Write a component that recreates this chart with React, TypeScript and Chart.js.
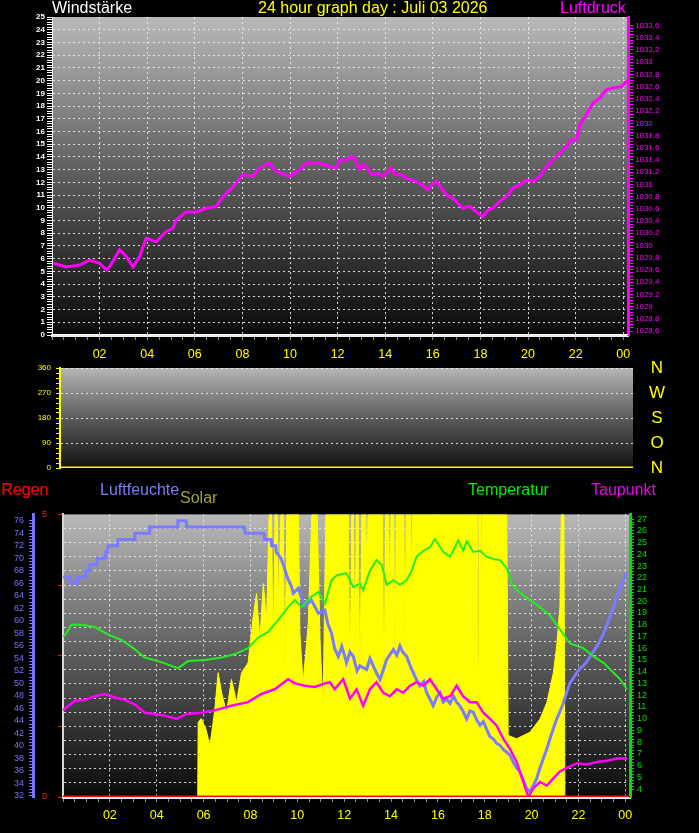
import React, { useEffect, useRef } from "react";
import { Chart, registerables } from "chart.js";

Chart.register(...registerables);

const FONT = '"Liberation Sans", Arial, Helvetica, sans-serif';
const GRID = "rgba(236,236,236,0.9)";

// ---------- tick labels ----------
const HOUR_LABELS = ["02", "04", "06", "08", "10", "12", "14", "16", "18", "20", "22", "00"];
const WIND_DIR_TICKS = [0, 90, 180, 270, 360];
const WIND_DIR_NAMES = ["N", "O", "S", "W", "N"];

type P = [number, number]; // [hour, value]

// ---------- top panel ----------
const pressure: P[] = [
  [0.05, 1029.71], [0.6, 1029.65], [1.16, 1029.68], [1.58, 1029.76], [2.0, 1029.71], [2.28, 1029.6], [2.42, 1029.65], [2.84, 1029.93], [3.12, 1029.82], [3.4, 1029.65],
  [3.68, 1029.82], [3.96, 1030.12], [4.38, 1030.06], [4.8, 1030.23], [5.08, 1030.28], [5.22, 1030.42], [5.64, 1030.55], [6.06, 1030.55], [6.48, 1030.61], [6.9, 1030.64],
  [7.18, 1030.8], [7.6, 1030.96], [8.02, 1031.16], [8.44, 1031.13], [8.72, 1031.27], [9.14, 1031.35], [9.42, 1031.21], [9.98, 1031.13], [10.4, 1031.24], [10.68, 1031.35],
  [11.24, 1031.35], [11.66, 1031.29], [11.95, 1031.27], [12.08, 1031.4], [12.37, 1031.4], [12.58, 1031.46], [12.71, 1031.43], [12.92, 1031.24], [13.06, 1031.32], [13.21, 1031.29],
  [13.42, 1031.16], [13.69, 1031.18], [13.9, 1031.13], [14.11, 1031.21], [14.26, 1031.27], [14.4, 1031.16], [14.68, 1031.16], [14.89, 1031.1], [15.16, 1031.07], [15.45, 1031.02],
  [15.79, 1030.91], [15.94, 1030.99], [16.15, 1031.05], [16.36, 1030.94], [16.57, 1030.83], [16.84, 1030.77], [17.05, 1030.69], [17.26, 1030.61], [17.55, 1030.64], [17.83, 1030.55],
  [18.1, 1030.47], [18.32, 1030.58], [18.53, 1030.61], [18.81, 1030.72], [19.09, 1030.8], [19.37, 1030.94], [19.65, 1030.99], [19.93, 1031.07], [20.21, 1031.05], [20.49, 1031.13],
  [20.77, 1031.29], [21.05, 1031.4], [21.33, 1031.51], [21.61, 1031.62], [21.82, 1031.73], [22.03, 1031.73], [22.17, 1031.97], [22.45, 1032.14], [22.73, 1032.33], [23.01, 1032.41],
  [23.29, 1032.55], [23.57, 1032.58], [23.92, 1032.6], [24.2, 1032.71],
];
const windSpeed: P[] = [[0, 0], [24.2, 0]];

// ---------- middle panel ----------
const windDirection: P[] = [[0, 0], [24, 0]];

// ---------- bottom panel ----------
const rain: P[] = [[0, 0], [24.2, 0]];

const humidity: P[] = [
  [0, 67], [0.28, 67], [0.3, 66], [0.6, 66], [0.62, 67], [0.95, 67], [0.97, 68], [1.12, 68], [1.14, 69], [1.45, 69],
  [1.47, 70], [1.8, 70], [1.82, 71], [1.91, 71], [1.93, 72], [2.33, 72], [2.35, 73], [3.05, 73], [3.07, 74], [3.68, 74],
  [3.7, 75], [4.88, 75], [4.9, 76], [5.25, 76], [5.27, 75], [7.74, 75], [7.78, 74], [8.58, 74], [8.6, 73], [8.88, 73],
  [8.9, 72], [9.08, 72], [9.1, 71], [9.3, 70], [9.4, 69], [9.6, 66.7], [9.75, 65.5], [9.83, 64.4], [10.04, 65.2], [10.2, 63.5],
  [10.32, 62.3], [10.6, 63.3], [10.9, 61.2], [11.18, 61.7], [11.3, 59.5], [11.46, 58], [11.6, 55.5], [11.75, 54.3], [11.9, 55.9], [12.1, 53.3],
  [12.25, 55], [12.39, 54.3], [12.55, 52], [12.67, 52.8], [12.96, 52.2], [13.1, 54], [13.24, 52.8], [13.4, 51.5], [13.53, 50.6], [13.7, 52.5],
  [13.81, 53.8], [14.1, 55.4], [14.25, 54.5], [14.38, 56], [14.5, 55], [14.67, 54.3], [14.8, 53], [14.95, 51.7], [15.1, 50.5], [15.23, 49.6],
  [15.4, 50.3], [15.52, 48.5], [15.66, 47.5], [15.8, 46.4], [15.95, 47.8], [16.09, 48.5], [16.23, 47], [16.37, 47.5], [16.52, 46.8], [16.66, 48],
  [16.8, 47], [16.94, 46.4], [17.08, 45.5], [17.23, 44.3], [17.37, 45.6], [17.51, 45.4], [17.65, 44.2], [17.8, 43.3], [17.94, 43.9], [18.08, 42.7],
  [18.22, 41.5], [18.37, 41.1], [18.51, 40.4], [18.65, 40.1], [18.8, 39.4], [18.94, 39], [19.08, 38.5], [19.22, 37.4], [19.36, 36.5], [19.5, 35.9],
  [19.65, 34.5], [19.79, 33.2], [19.93, 32.7], [20.07, 33.6], [20.22, 34.8], [20.36, 36.5], [20.5, 38], [20.65, 39.5], [20.78, 41.1], [20.93, 42.8],
  [21.07, 44.3], [21.21, 45.5], [21.36, 46.9], [21.5, 48.6], [21.64, 50.1], [21.78, 50.8], [21.93, 51.7], [22.07, 52.4], [22.21, 52.8], [22.36, 53.5],
  [22.5, 54.3], [22.64, 55.1], [22.78, 55.9], [22.93, 56.9], [23.07, 58], [23.21, 59.3], [23.35, 60.7], [23.5, 62.2], [23.64, 63.9], [23.78, 65.2],
  [23.92, 66.5], [24.07, 67.8],
];

const temperature: P[] = [
  [0, 17], [0.15, 17.3], [0.36, 18], [0.79, 18], [1.36, 17.8], [1.93, 17.15], [2.5, 16.7], [3.07, 15.9], [3.49, 15.2], [4.06, 14.9],
  [4.49, 14.6], [4.91, 14.3], [5.34, 14.9], [6.05, 15], [6.77, 15.2], [7.34, 15.5], [7.9, 16], [8.33, 16.9], [8.76, 17.4], [9.18, 18.4],
  [9.61, 19.5], [9.9, 20.1], [10.18, 19.5], [10.61, 20.4], [10.9, 20.8], [11.18, 19.8], [11.46, 21.8], [11.68, 22.2], [12.1, 22.4], [12.39, 21.2],
  [12.67, 21.5], [12.81, 20.95], [13.1, 22.6], [13.38, 23.5], [13.6, 23.1], [13.81, 21.4], [14.1, 21.8], [14.38, 21.4], [14.67, 21.8], [14.88, 22.6],
  [15.09, 23.8], [15.38, 24.3], [15.66, 24.6], [15.87, 25.3], [16.23, 24.2], [16.52, 23.8], [16.87, 25.2], [17.08, 24.3], [17.23, 25.1], [17.51, 24.2],
  [17.8, 24.3], [18.08, 23.8], [18.37, 23.6], [18.65, 23.5], [18.94, 22.8], [19.15, 21.5], [19.36, 20.95], [19.65, 20.5], [19.93, 20.1], [20.36, 19.5],
  [20.78, 18.8], [21.21, 17.6], [21.64, 16.4], [22.21, 16], [22.64, 15.3], [23.07, 14.75], [23.5, 13.9], [23.78, 13.35], [24.07, 12.5],
];

const dewPoint: P[] = [
  [0, 10.7], [0.15, 10.95], [0.5, 11.5], [0.93, 11.6], [1.36, 11.9], [1.78, 12.1], [2.21, 11.8], [2.64, 11.6], [3.07, 11.2], [3.49, 10.5],
  [3.92, 10.4], [4.35, 10.25], [4.85, 9.97], [5.27, 10.4], [5.91, 10.5], [6.48, 10.7], [7.19, 11.1], [7.9, 11.4], [8.47, 12.1], [9.04, 12.5],
  [9.61, 13.35], [9.9, 13], [10.32, 12.8], [10.75, 12.7], [11.18, 13], [11.39, 13.1], [11.6, 12.5], [11.96, 13.35], [12.25, 11.7], [12.53, 12.5],
  [12.81, 11.1], [13.1, 12.5], [13.38, 13.1], [13.67, 12.2], [13.95, 11.9], [14.24, 12.5], [14.52, 12.2], [14.81, 12.8], [15.09, 13.1], [15.38, 12.8],
  [15.66, 13.35], [15.95, 12.5], [16.23, 11.7], [16.52, 11.9], [16.8, 12.8], [17.08, 11.9], [17.37, 11.4], [17.65, 11.4], [17.94, 10.5], [18.22, 9.97],
  [18.51, 9.4], [18.79, 8.3], [19.08, 7.4], [19.36, 6.3], [19.65, 4.6], [19.86, 3.3], [20.07, 4.05], [20.36, 4.6], [20.65, 4.3], [20.93, 4.9],
  [21.21, 5.5], [21.5, 5.8], [21.93, 6.2], [22.36, 6.1], [22.78, 6.3], [23.21, 6.4], [23.64, 6.6], [24.07, 6.6],
];

// solar, percent of panel height (clipped at top)
const solar: P[] = [
  [0, 0], [5.75, 0], [5.77, 26.4], [5.9, 27.8], [6.1, 24], [6.27, 18.2], [6.4, 26], [6.48, 31.1], [6.62, 44], [6.77, 36.9],
  [6.98, 29.9], [7.19, 41.6], [7.41, 33.5], [7.62, 44], [7.9, 47.5], [8.12, 63.9], [8.26, 72], [8.4, 55.7], [8.55, 75.5], [8.69, 62.7],
  [8.8, 100], [8.9, 100], [8.97, 49.8], [9.05, 100], [9.15, 100], [9.2, 67.4], [9.3, 100], [9.4, 100], [9.47, 44], [9.55, 100],
  [10.05, 100], [10.11, 58], [10.25, 40.5], [10.47, 61.8], [10.62, 100], [10.85, 100], [10.97, 55.7], [11.1, 32.3], [11.22, 100], [12.18, 100],
  [12.25, 35.8], [12.32, 100], [12.4, 100], [12.46, 52], [12.52, 100], [12.6, 100], [12.67, 40.5], [12.75, 100], [12.92, 100], [12.97, 79],
  [13.02, 100], [13.64, 100], [13.7, 30], [13.76, 100], [13.9, 100], [13.95, 67], [14.0, 100], [14.12, 100], [14.17, 44], [14.22, 100],
  [14.55, 100], [14.6, 53], [14.65, 100], [14.84, 100], [14.88, 73], [14.92, 100], [17.68, 100], [17.72, 46], [17.75, 100], [17.84, 100],
  [17.87, 61], [17.9, 100], [18.94, 100], [19.0, 21.8], [19.36, 20.6], [19.93, 22.9], [20.36, 27.6], [20.65, 33.4], [20.93, 44], [21.07, 53.3],
  [21.21, 67.4], [21.27, 100], [21.38, 100], [21.42, 0], [24.2, 0],
];

// ---------- helpers ----------
const toXY = (arr: P[]) => arr.map(([x, y]) => ({ x, y }));
const makeTicks = (a: number, b: number, step: number) => {
  const n = Math.round((b - a) / step);
  const out: { value: number }[] = [];
  for (let i = 0; i <= n; i++) out.push({ value: Math.round((a + i * step) * 10000) / 10000 });
  return out;
};
const isMult = (v: number, m: number) => Math.abs(v / m - Math.round(v / m)) < 1e-6;

const bgPlugin = (top: string, bottom: string) => ({
  id: "panelBg",
  beforeDraw(chart: any) {
    const { ctx, chartArea: a } = chart;
    if (!a) return;
    const g = ctx.createLinearGradient(0, a.top, 0, a.bottom);
    g.addColorStop(0, top);
    g.addColorStop(0.5, "#5c5c5c");
    g.addColorStop(1, bottom);
    ctx.save();
    ctx.fillStyle = g;
    ctx.fillRect(a.left, a.top, a.right - a.left, a.bottom - a.top);
    ctx.restore();
  },
});

function timeAxis(height: number, padding: number) {
  return {
    type: "linear",
    min: 0,
    max: 24.2,
    afterBuildTicks: (s: any) => {
      s.ticks = makeTicks(0, 24, 0.5);
    },
    afterFit: (s: any) => {
      s.height = height;
    },
    grid: {
      color: (c: any) =>
        c.tick && isMult(c.tick.value, 2) && c.tick.value > 0 ? GRID : "transparent",
      tickColor: "#8c8c8c",
      tickLength: 5,
      lineWidth: 1,
    },
    border: { color: "#e4f4e4", width: 3, dash: [2, 3] },
    ticks: {
      autoSkip: false,
      maxRotation: 0,
      color: "#ffff00",
      font: { family: FONT, size: 12.5 },
      padding: padding,
      callback: (v: number) =>
        isMult(v, 2) && v >= 2 ? HOUR_LABELS[Math.round(v / 2) - 1] : "",
    },
  };
}

const baseOptions = {
  animation: false,
  responsive: false,
  events: [],
  plugins: { legend: { display: false }, tooltip: { enabled: false } },
};

const lineDs = (data: P[], yAxisID: string, color: string, width: number, order: number) => ({
  data: toXY(data),
  yAxisID,
  borderColor: color,
  borderWidth: width,
  pointRadius: 0,
  tension: 0,
  fill: false,
  order,
});

export default function App() {
  const aRef = useRef<HTMLCanvasElement>(null);
  const bRef = useRef<HTMLCanvasElement>(null);
  const cRef = useRef<HTMLCanvasElement>(null);

  useEffect(() => {
    document.body.style.margin = "0";
    document.body.style.background = "#000";
    const charts: any[] = [];

    charts.push(
      new Chart(aRef.current as any, {
        type: "line",
        data: {
          datasets: [
            lineDs(windSpeed, "y", "#ffffff", 2, 0),
            lineDs(pressure, "yP", "#ff00ff", 3, 1),
          ],
        },
        options: {
          ...baseOptions,
          layout: { padding: { top: 17, left: 0, right: 0, bottom: 0 } },
          scales: {
            x: timeAxis(35, 7),
            y: {
              type: "linear",
              position: "left",
              min: 0,
              max: 25,
              afterBuildTicks: (s: any) => {
                s.ticks = makeTicks(0, 25, 0.2);
              },
              afterFit: (s: any) => {
                s.width = 52;
              },
              grid: {
                color: (c: any) =>
                  c.tick && isMult(c.tick.value, 1) && c.tick.value > 0 && c.tick.value < 25 ? GRID : "transparent",
                tickColor: "#ffffff",
                tickLength: 5,
              },
              border: { color: "#ffffff", width: 1, dash: [2, 3] },
              ticks: {
                autoSkip: false,
                color: "#ffffff",
                font: { family: FONT, size: 8, weight: "bold" },
                padding: 2,
                callback: (v: number) => (isMult(v, 1) ? String(Math.round(v)) : ""),
              },
            },
            yP: {
              type: "linear",
              position: "right",
              min: 1028.535,
              max: 1033.74,
              afterBuildTicks: (s: any) => {
                s.ticks = makeTicks(1028.6, 1033.6, 0.05);
              },
              afterFit: (s: any) => {
                s.width = 71;
              },
              grid: { drawOnChartArea: false, tickColor: "#ff00ff", tickLength: 5 },
              border: { color: "#ff00ff", width: 3 },
              ticks: {
                autoSkip: false,
                color: "#ff00ff",
                font: { family: FONT, size: 8 },
                padding: 2,
                callback: (v: number) => {
                  const t = Math.round(v * 10);
                  if (Math.abs(v * 10 - t) > 1e-4 || t % 2 !== 0) return "";
                  return t % 10 === 0 ? String(t / 10) : (t / 10).toFixed(1).replace(".", ",");
                },
              },
            },
          },
        } as any,
        plugins: [bgPlugin("#b9b9b9", "#0a0a0a")],
      } as any)
    );

    charts.push(
      new Chart(bRef.current as any, {
        type: "line",
        data: { datasets: [lineDs(windDirection, "y", "#ffff00", 3, 0)] },
        options: {
          ...baseOptions,
          layout: { padding: { top: 18, left: 0, right: 66, bottom: 0 } },
          scales: {
            x: {
              type: "linear",
              min: 0,
              max: 24,
              afterFit: (s: any) => {
                s.height = 12;
              },
              grid: { display: false },
              border: { display: false },
              ticks: { display: false },
            },
            y: {
              type: "linear",
              position: "left",
              min: 0,
              max: 360,
              afterBuildTicks: (s: any) => {
                s.ticks = makeTicks(0, 360, 18);
              },
              afterFit: (s: any) => {
                s.width = 60;
              },
              grid: {
                color: (c: any) => (c.tick && isMult(c.tick.value, 90) && c.tick.value > 0 ? GRID : "transparent"),
                tickColor: "#ffff00",
                tickLength: 4,
              },
              border: { color: "#ffff00", width: 2, dash: [2, 3] },
              ticks: {
                autoSkip: false,
                color: "#ffff00",
                font: { family: FONT, size: 8 },
                padding: 5,
                callback: (v: number) => (isMult(v, 90) ? String(Math.round(v)) : ""),
              },
            },
          },
        } as any,
        plugins: [bgPlugin("#b6b6b6", "#111111")],
      } as any)
    );

    charts.push(
      new Chart(cRef.current as any, {
        type: "line",
        data: {
          datasets: [
            lineDs(rain, "yR", "#ff0000", 3, 0),
            lineDs(dewPoint, "yT", "#ff00ff", 2.5, 1),
            lineDs(temperature, "yT", "#22ee22", 2, 2),
            lineDs(humidity, "yH", "#7b7bff", 3, 3),
            {
              data: toXY(solar),
              yAxisID: "yS",
              borderColor: "#ffff00",
              backgroundColor: "#ffff00",
              borderWidth: 1,
              pointRadius: 0,
              tension: 0,
              fill: "origin",
              order: 4,
            },
          ],
        },
        options: {
          ...baseOptions,
          layout: { padding: { top: 14, left: 0, right: 0, bottom: 0 } },
          scales: {
            x: timeAxis(36, 6),
            yR: {
              type: "linear",
              position: "left",
              weight: 0,
              min: 0,
              max: 5,
              afterBuildTicks: (s: any) => {
                s.ticks = makeTicks(0, 5, 0.25);
              },
              afterFit: (s: any) => {
                s.width = 30;
              },
              grid: {
                color: (c: any) => (c.tick && c.tick.value > 0 && c.tick.value < 5 ? GRID : "transparent"),
                tickColor: (c: any) => (c.tick && isMult(c.tick.value, 1.25) ? "#ff0000" : "transparent"),
                tickLength: 5,
              },
              border: { color: "#d6d6d6", width: 2, dash: [2, 3] },
              ticks: {
                autoSkip: false,
                color: "#ff2020",
                font: { family: FONT, size: 9 },
                padding: 11,
                callback: (v: number) => (v === 0 || v === 5 ? String(v) : ""),
              },
            },
            yH: {
              type: "linear",
              position: "left",
              weight: 1,
              min: 31.84,
              max: 77,
              afterBuildTicks: (s: any) => {
                s.ticks = makeTicks(32, 76, 0.5);
              },
              afterFit: (s: any) => {
                s.width = 33;
              },
              grid: { drawOnChartArea: false, tickColor: "#7474ff", tickLength: 4 },
              border: { color: "#7474ff", width: 3 },
              ticks: {
                autoSkip: false,
                color: "#7474ff",
                font: { family: FONT, size: 9 },
                padding: 5,
                callback: (v: number) => (isMult(v, 2) ? String(Math.round(v)) : ""),
              },
            },
            yT: {
              type: "linear",
              position: "right",
              min: 3.32,
              max: 27.4,
              afterBuildTicks: (s: any) => {
                s.ticks = makeTicks(4, 27, 0.25);
              },
              afterFit: (s: any) => {
                s.width = 69;
              },
              grid: { drawOnChartArea: false, tickColor: "#00e000", tickLength: 4 },
              border: { color: "#00e000", width: 3 },
              ticks: {
                autoSkip: false,
                color: "#00e000",
                font: { family: FONT, size: 9 },
                padding: 3,
                callback: (v: number) => (isMult(v, 1) ? String(Math.round(v)) : ""),
              },
            },
            yS: { type: "linear", display: false, min: 0, max: 100 },
          },
        } as any,
        plugins: [bgPlugin("#b9b9b9", "#0a0a0a")],
      } as any)
    );

    return () => charts.forEach((c) => c.destroy());
  }, []);

  const txt = (left: number, top: number, color: string, size = 16): React.CSSProperties => ({
    position: "absolute",
    left,
    top,
    color,
    fontFamily: FONT,
    fontSize: size,
    lineHeight: "16px",
    whiteSpace: "nowrap",
  });

  // wind-direction letters: 360 at y=368, 0 at y=468
  const dirLabel = (v: number, i: number) => (
    <span
      key={i}
      style={{
        ...txt(646, 468 - (v / 360) * 100 - 8, "#ffff00", 17),
        width: 22,
        textAlign: "center",
      }}
    >
      {WIND_DIR_NAMES[i]}
    </span>
  );

  return (
    <div style={{ position: "relative", width: 699, height: 833, background: "#000", overflow: "hidden" }}>
      <canvas ref={aRef} width={699} height={370} style={{ position: "absolute", left: 0, top: 0 }} />
      <canvas ref={bRef} width={699} height={130} style={{ position: "absolute", left: 0, top: 350 }} />
      <canvas ref={cRef} width={699} height={335} style={{ position: "absolute", left: 0, top: 498 }} />

      <span style={txt(52, 0, "#ffffff")}>Windstärke</span>
      <span style={txt(258, 0, "#ffff00")}>24 hour graph day : Juli 03 2026</span>
      <span style={txt(560, 0, "#ff00ff")}>Luftdruck</span>

      {WIND_DIR_TICKS.map(dirLabel)}

      <span style={txt(1, 482, "#ff0000")}>Regen</span>
      <span style={txt(100, 482, "#7b7bff")}>Luftfeuchte</span>
      <span style={txt(180, 490, "#a0a040")}>Solar</span>
      <span style={txt(468, 482, "#00ee00")}>Temperatur</span>
      <span style={txt(591, 482, "#ee00ee")}>Taupunkt</span>
    </div>
  );
}
